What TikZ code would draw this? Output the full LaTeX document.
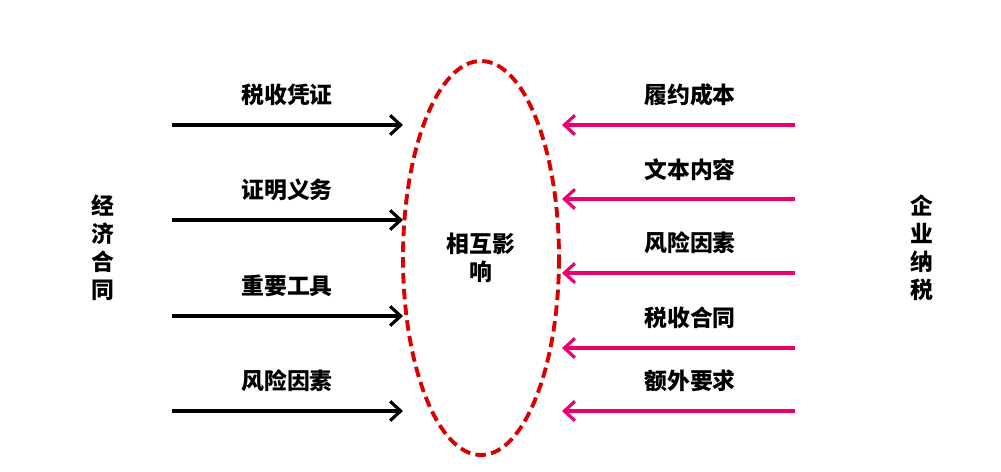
\documentclass[tikz,border=0pt]{standalone}
\usepackage{fontspec}
\newfontfamily\cjk{Noto Sans CJK SC}
\usetikzlibrary{arrows.meta,positioning}
\definecolor{pinkred}{RGB}{236,0,110}
\tikzset{
  lbl/.style={font=\cjk\bfseries\fontsize{13pt}{16pt}\selectfont},
  blackarrow/.style={line width=1.8pt,-{Straight Barb[length=6pt,width=11pt]}},
  pinkarrow/.style={line width=1.8pt,color=pinkred,-{Straight Barb[length=6pt,width=11pt]}}
}
\begin{document}
\begin{tikzpicture}[x=0.02cm,y=-0.02cm]
  \useasboundingbox (0,0) rectangle (1001,471);

  \draw [line width=2.2pt,color=red!85!black,dash pattern=on 6pt off 3pt] (481,258) ellipse (78 and 197);
  \node [lbl,align=center] (mid) at (481,258) {相互影\\响};

  \node [lbl,align=center] (econ) at (103,248) {经\\济\\合\\同};
  \node [lbl,align=center] (tax) at (922,248) {企\\业\\纳\\税};

  % left side
  \foreach \y/\txt [count=\i] in {125/税收凭证,220/证明义务,316/重要工具,411/风险因素} {
    \coordinate (ls\i) at (172,\y);
    \coordinate (le\i) at (403,\y);
    \draw [blackarrow] (ls\i) -- (le\i);
    \node [lbl] (lt\i) at (287,\y-30) {\txt};
  }

  % right side
  \foreach \y/\ty/\txt [count=\i] in {125/95/履约成本,199/170/文本内容,273/243/风险因素,348/318/税收合同,411/381/额外要求} {
    \coordinate (rs\i) at (795,\y);
    \coordinate (re\i) at (562,\y);
    \draw [pinkarrow] (rs\i) -- (re\i);
    \node [lbl] (rt\i) at (690,\ty) {\txt};
  }
\end{tikzpicture}
\end{document}
